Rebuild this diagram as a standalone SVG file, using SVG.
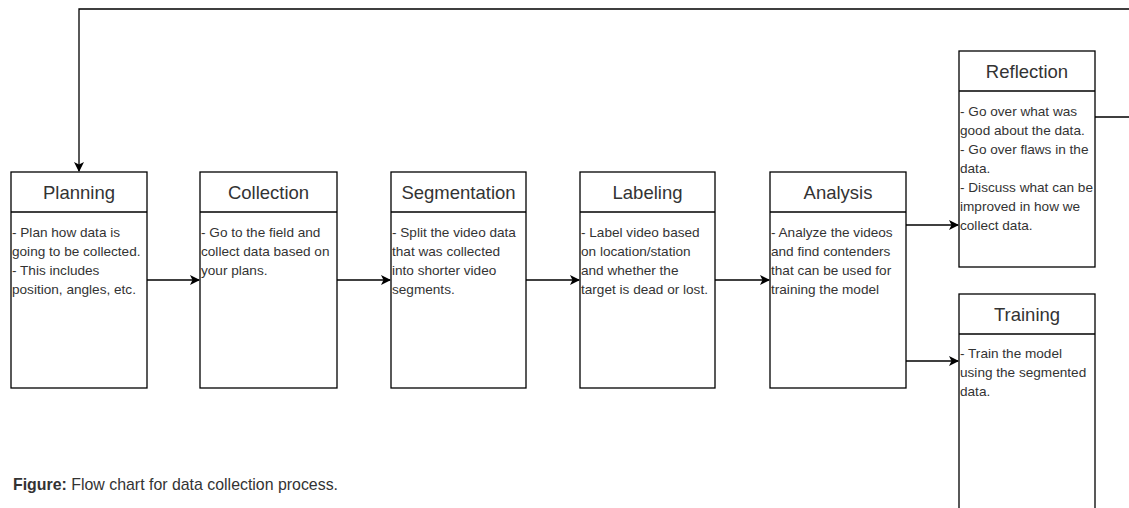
<svg xmlns="http://www.w3.org/2000/svg" width="1129" height="508" viewBox="0 0 1129 508">
<defs>
<marker id="arr" viewBox="0 0 10 10" refX="9" refY="5" markerWidth="10" markerHeight="10" markerUnits="userSpaceOnUse" orient="auto">
<path d="M0,0 L10,5 L0,10 L2.5,5 Z" fill="#000"/>
</marker>
</defs>
<style>
.box{fill:#fff;stroke:#000;stroke-width:1.3}
.div{stroke:#000;stroke-width:1.3}
.t{font-family:"Liberation Sans",Arial,sans-serif;font-size:18.5px;fill:#333;text-anchor:middle}
.b{font-family:"Liberation Sans",Arial,sans-serif;font-size:13.6px;fill:#333}
.c{fill:none;stroke:#000;stroke-width:1.3}
.cap{font-family:"Liberation Sans",Arial,sans-serif;font-size:15.9px;fill:#333}
</style>
<rect width="1129" height="508" fill="#fff"/>
<g id="connectors">
<path class="c" d="M1095,117 H1132 V9 H79 V171" marker-end="url(#arr)"/>
<path class="c" d="M147,280 H199" marker-end="url(#arr)"/>
<path class="c" d="M337,280 H390" marker-end="url(#arr)"/>
<path class="c" d="M526,280 H579" marker-end="url(#arr)"/>
<path class="c" d="M715,280 H769" marker-end="url(#arr)"/>
<path class="c" d="M906,225 H958" marker-end="url(#arr)"/>
<path class="c" d="M906,361 H958" marker-end="url(#arr)"/>
</g>
<g id="planning">
<rect class="box" x="11" y="172" width="136" height="216"/>
<line class="div" x1="11" y1="212" x2="147" y2="212"/>
<text class="t" x="79" y="199">Planning</text>
<text class="b" x="12" y="237">- Plan how data is</text>
<text class="b" x="12" y="256">going to be collected.</text>
<text class="b" x="12" y="275">- This includes</text>
<text class="b" x="12" y="294">position, angles, etc.</text>
</g>
<g id="collection">
<rect class="box" x="200" y="172" width="137" height="216"/>
<line class="div" x1="200" y1="212" x2="337" y2="212"/>
<text class="t" x="268.5" y="199">Collection</text>
<text class="b" x="201" y="237">- Go to the field and</text>
<text class="b" x="201" y="256">collect data based on</text>
<text class="b" x="201" y="275">your plans.</text>
</g>
<g id="segmentation">
<rect class="box" x="391" y="172" width="135" height="216"/>
<line class="div" x1="391" y1="212" x2="526" y2="212"/>
<text class="t" x="458.5" y="199">Segmentation</text>
<text class="b" x="392" y="237">- Split the video data</text>
<text class="b" x="392" y="256">that was collected</text>
<text class="b" x="392" y="275">into shorter video</text>
<text class="b" x="392" y="294">segments.</text>
</g>
<g id="labeling">
<rect class="box" x="580" y="172" width="135" height="216"/>
<line class="div" x1="580" y1="212" x2="715" y2="212"/>
<text class="t" x="647.5" y="199">Labeling</text>
<text class="b" x="581" y="237">- Label video based</text>
<text class="b" x="581" y="256">on location/station</text>
<text class="b" x="581" y="275">and whether the</text>
<text class="b" x="581" y="294">target is dead or lost.</text>
</g>
<g id="analysis">
<rect class="box" x="770" y="172" width="136" height="216"/>
<line class="div" x1="770" y1="212" x2="906" y2="212"/>
<text class="t" x="838" y="199">Analysis</text>
<text class="b" x="771" y="237">- Analyze the videos</text>
<text class="b" x="771" y="256">and find contenders</text>
<text class="b" x="771" y="275">that can be used for</text>
<text class="b" x="771" y="294">training the model</text>
</g>
<g id="reflection">
<rect class="box" x="959" y="51" width="136" height="216"/>
<line class="div" x1="959" y1="91" x2="1095" y2="91"/>
<text class="t" x="1027" y="78">Reflection</text>
<text class="b" x="960" y="116">- Go over what was</text>
<text class="b" x="960" y="135">good about the data.</text>
<text class="b" x="960" y="154">- Go over flaws in the</text>
<text class="b" x="960" y="173">data.</text>
<text class="b" x="960" y="192">- Discuss what can be</text>
<text class="b" x="960" y="211">improved in how we</text>
<text class="b" x="960" y="230">collect data.</text>
</g>
<g id="training">
<rect class="box" x="959" y="294" width="136" height="230"/>
<line class="div" x1="959" y1="334" x2="1095" y2="334"/>
<text class="t" x="1027" y="321">Training</text>
<text class="b" x="960" y="358">- Train the model</text>
<text class="b" x="960" y="377">using the segmented</text>
<text class="b" x="960" y="396">data.</text>
</g>
<g id="caption">
<text class="cap" x="13" y="490"><tspan font-weight="bold">Figure:</tspan> Flow chart for data collection process.</text>
</g>
</svg>
